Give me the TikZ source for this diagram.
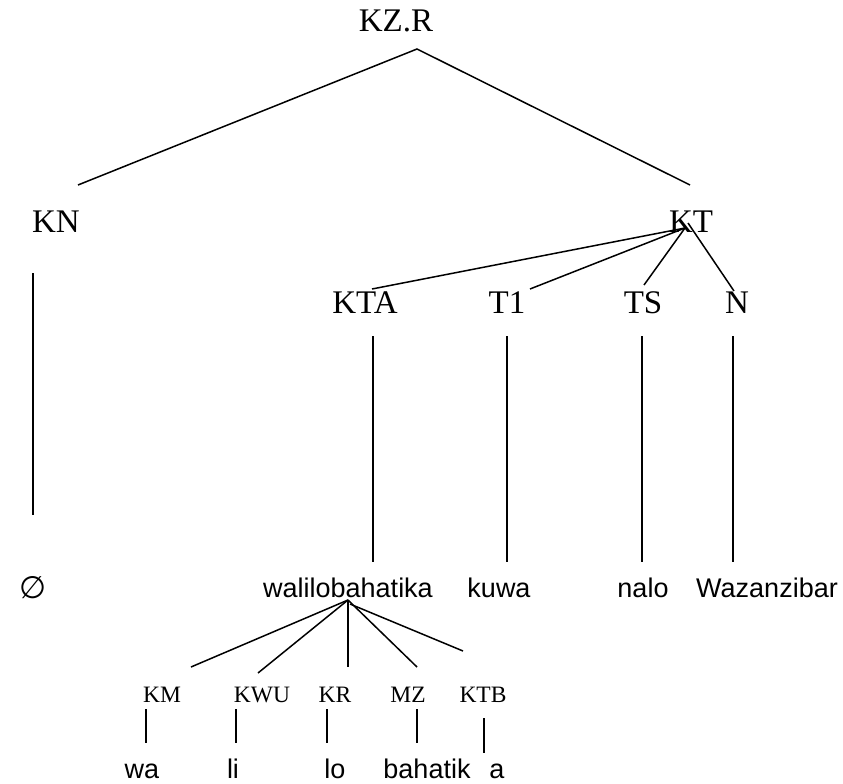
\documentclass[tikz,border=0pt]{standalone}
\usepackage{fontspec}
\setmainfont{Liberation Serif}
\newfontfamily\sansword{Liberation Sans}
\newfontfamily\symfont{DejaVu Sans}
\begin{document}
\begin{tikzpicture}[x=1pt,y=-1pt,
  big/.style={anchor=base,inner sep=0pt,font=\fontsize{33}{38}\selectfont},
  small/.style={anchor=base,inner sep=0pt,font=\fontsize{23.5}{28}\selectfont},
  word/.style={anchor=base,inner sep=0pt,font=\sansword\fontsize{27}{32}\selectfont},
  branch/.style={line width=1.5pt,line cap=butt}]
\path[use as bounding box] (0,0) rectangle (843,784);

% phrase categories
\node[big] (kzr) at (396,32) {KZ.R};
\node[big] (kn)  at (56,232) {KN};
\node[big] (kt)  at (691,232) {KT};
\node[big] (kta) at (365,313) {KTA};
\node[big] (t1)  at (507,313) {T1};
\node[big] (ts)  at (643,313) {TS};
\node[big] (n)   at (737,313) {N};

% words
\node[anchor=base,inner sep=0pt,font=\symfont\fontsize{31}{36}\selectfont] (empty) at (33,598) {∅};
\node[word] (walilo) at (348,597) {walilobahatika};
\node[word] (kuwa)   at (499,597) {kuwa};
\node[word] (nalo)   at (643,597) {nalo};
\node[word] (wazan)  at (767,597) {Wazanzibar};

% morpheme categories
\node[small] (km)  at (162,702) {KM};
\node[small] (kwu) at (262,702) {KWU};
\node[small] (kr)  at (335,702) {KR};
\node[small] (mz)  at (408,702) {MZ};
\node[small] (ktb) at (483,702) {KTB};

% morphemes
\node[word] (wa)  at (142,778) {wa};
\node[word] (li)  at (233,778) {li};
\node[word] (lo)  at (335,778) {lo};
\node[word] (bah) at (427,778) {bahatik};
\node[word] (a)   at (497,778) {a};

% sentence level
\draw[branch] ([shift={(22,-47)}]kn.base) -- ([shift={(21,17)}]kzr.base) -- ([shift={(-1,-47)}]kt.base);
\draw[branch] ([shift={(-23,41)}]kn.base) -- ([shift={(0,-83)}]empty.base);

% verb phrase
\draw[branch] ([shift={(-6,-4)}]kt.base) -- ([shift={(7,-24)}]kta.base);
\draw[branch] ([shift={(-6,-4)}]kt.base) -- ([shift={(23,-24)}]t1.base);
\draw[branch] ([shift={(-6,-4)}]kt.base) -- ([shift={(1,-28)}]ts.base);
\draw[branch] ([shift={(-3,-9)}]kt.base) -- ([shift={(-3,-22)}]n.base);

\draw[branch] ([shift={(8,23)}]kta.base) -- ([shift={(25,-35)}]walilo.base);
\draw[branch] ([shift={(0,23)}]t1.base) -- ([shift={(8,-35)}]kuwa.base);
\draw[branch] ([shift={(-1,23)}]ts.base) -- ([shift={(-1,-35)}]nalo.base);
\draw[branch] ([shift={(-4,23)}]n.base) -- ([shift={(-34,-35)}]wazan.base);

% morphology of the verb
\draw[branch] ([shift={(0,3)}]walilo.base) -- ([shift={(29,-35)}]km.base);
\draw[branch] ([shift={(0,3)}]walilo.base) -- ([shift={(-4,-29)}]kwu.base);
\draw[branch] ([shift={(0,3)}]walilo.base) -- ([shift={(13,-35)}]kr.base);
\draw[branch] ([shift={(0,3)}]walilo.base) -- ([shift={(9,-35)}]mz.base);
\draw[branch] ([shift={(2,7)}]walilo.base) -- ([shift={(-20,-51)}]ktb.base);

\draw[branch] ([shift={(-16,7)}]km.base) -- ([shift={(4,-35)}]wa.base);
\draw[branch] ([shift={(-26,7)}]kwu.base) -- ([shift={(3,-35)}]li.base);
\draw[branch] ([shift={(-8,7)}]kr.base) -- ([shift={(-8,-35)}]lo.base);
\draw[branch] ([shift={(9,7)}]mz.base) -- ([shift={(-10,-35)}]bah.base);
\draw[branch] ([shift={(1,16)}]ktb.base) -- ([shift={(-13,-25)}]a.base);
\end{tikzpicture}
\end{document}
